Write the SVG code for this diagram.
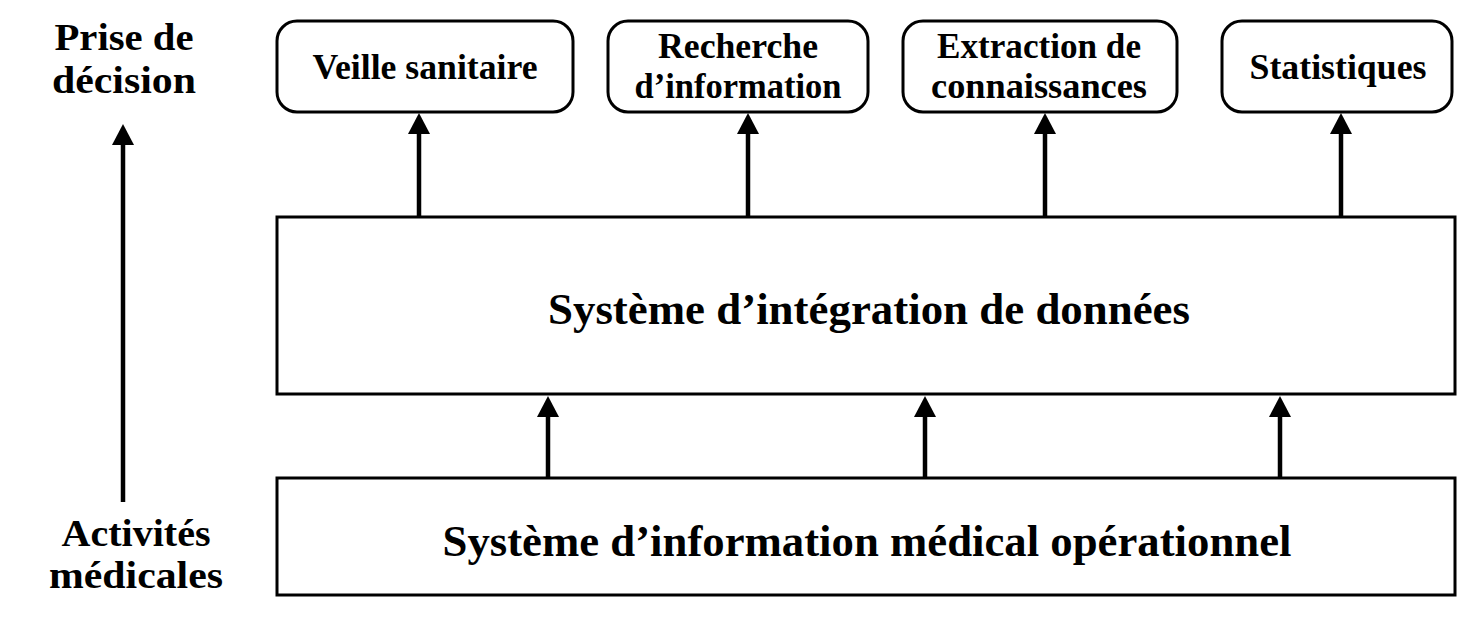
<svg xmlns="http://www.w3.org/2000/svg" width="1461" height="622" viewBox="0 0 1461 622">
<defs>
<marker id="ah" markerWidth="21" markerHeight="22" refX="13" refY="11" orient="auto" markerUnits="userSpaceOnUse">
<path d="M0,0 L21,11 L0,22 Z" fill="#000"/>
</marker>
<style>
text{font-family:"Liberation Serif","DejaVu Serif",serif;font-weight:bold;fill:#000;text-anchor:middle}
.box{fill:#fff;stroke:#000;stroke-width:3}
.con line{stroke:#000;stroke-width:4.5;marker-end:url(#ah)}
.s{font-size:36px}
.l{font-size:38px}
.b{font-size:45px}
</style>
</defs>
<rect width="1461" height="622" fill="#fff"/>
<g id="node-veille"><rect class="box" x="277" y="21" width="296" height="91" rx="20"/><text class="s" x="425" y="79" textLength="225" lengthAdjust="spacingAndGlyphs">Veille sanitaire</text></g>
<g id="node-recherche"><rect class="box" x="608" y="21" width="260" height="91" rx="20"/><text class="s" x="738" y="58" textLength="160" lengthAdjust="spacingAndGlyphs">Recherche</text><text class="s" x="738" y="98" textLength="207" lengthAdjust="spacingAndGlyphs">d’information</text></g>
<g id="node-extraction"><rect class="box" x="903" y="21" width="274" height="91" rx="20"/><text class="s" x="1039" y="58" textLength="204" lengthAdjust="spacingAndGlyphs">Extraction de</text><text class="s" x="1039" y="98" textLength="216" lengthAdjust="spacingAndGlyphs">connaissances</text></g>
<g id="node-statistiques"><rect class="box" x="1222" y="21" width="230" height="91" rx="20"/><text class="s" x="1338" y="79" textLength="177" lengthAdjust="spacingAndGlyphs">Statistiques</text></g>
<g id="node-integration"><rect class="box" x="277" y="217" width="1178" height="177"/><text class="b" x="869" y="324" textLength="642" lengthAdjust="spacingAndGlyphs">Système d’intégration de données</text></g>
<g id="node-sim"><rect class="box" x="277" y="478" width="1178" height="117"/><text class="b" x="867" y="556" textLength="849" lengthAdjust="spacingAndGlyphs">Système d’information médical opérationnel</text></g>
<g id="label-decision"><text class="l" x="124" y="50" textLength="139" lengthAdjust="spacingAndGlyphs">Prise de</text><text class="l" x="124" y="93" textLength="144" lengthAdjust="spacingAndGlyphs">décision</text></g>
<g id="label-activites"><text class="l" x="136" y="546" textLength="149" lengthAdjust="spacingAndGlyphs">Activités</text><text class="l" x="136" y="588" textLength="174" lengthAdjust="spacingAndGlyphs">médicales</text></g>
<g id="connectors" class="con">
<line x1="419" y1="216" x2="419" y2="121"/>
<line x1="748" y1="216" x2="748" y2="121"/>
<line x1="1045" y1="216" x2="1045" y2="121"/>
<line x1="1341" y1="216" x2="1341" y2="121"/>
<line x1="548" y1="477" x2="548" y2="404"/>
<line x1="925" y1="477" x2="925" y2="404"/>
<line x1="1280" y1="477" x2="1280" y2="404"/>
<line x1="123" y1="502" x2="123" y2="132"/>
</g>
</svg>
